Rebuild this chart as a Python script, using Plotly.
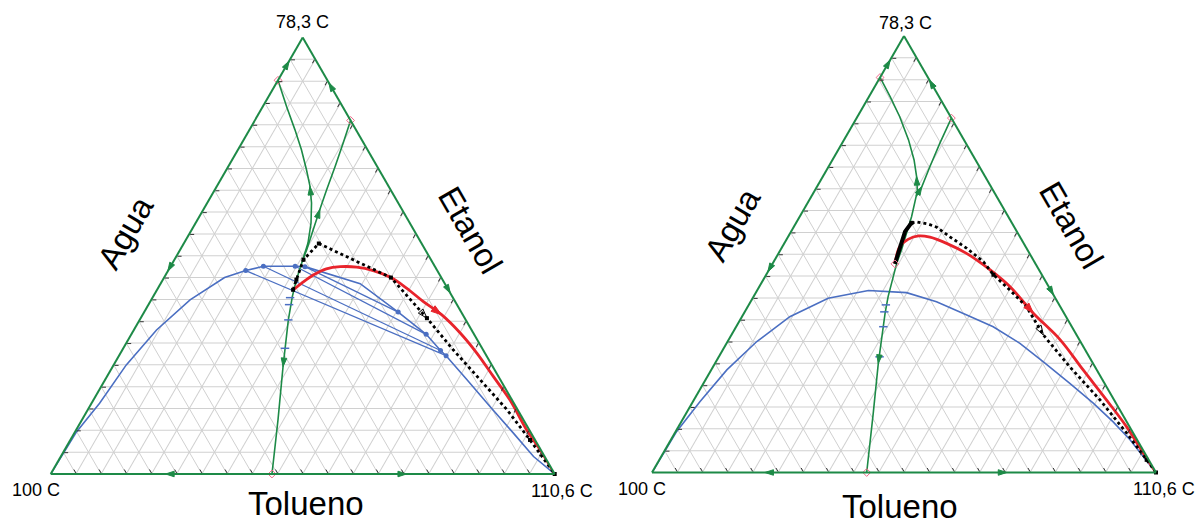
import math
import plotly.graph_objects as go

GREEN = "#1d8a47"
BLUE = "#4b6fc2"
RED = "#e8242c"
GRID = "#d0d0d0"
PINK = "#f06a8a"
FONT = "Liberation Sans, Arial, sans-serif"

# compositions as (Etanol a, Agua b, Tolueno c)
# ---------------- left diagram ----------------
left_binodal = [
    (0.000, 1.000, 0.000), (0.097, 0.900, 0.003), (0.162, 0.822, 0.016),
    (0.250, 0.725, 0.025), (0.330, 0.625, 0.045), (0.399, 0.524, 0.077),
    (0.450, 0.430, 0.120), (0.466, 0.380, 0.154), (0.476, 0.340, 0.184),
    (0.476, 0.277, 0.247), (0.475, 0.258, 0.267), (0.436, 0.168, 0.396),
    (0.371, 0.125, 0.504), (0.320, 0.095, 0.585), (0.283, 0.085, 0.632),
    (0.271, 0.080, 0.649), (0.216, 0.066, 0.718), (0.154, 0.051, 0.795),
    (0.093, 0.035, 0.872), (0.040, 0.022, 0.938), (0.000, 0.000, 1.000),
]
left_tie_water = [(0.466, 0.380, 0.154), (0.476, 0.340, 0.184),
                  (0.476, 0.277, 0.247), (0.475, 0.258, 0.267)]
left_tie_toluene = [(0.271, 0.080, 0.649), (0.283, 0.085, 0.632),
                    (0.320, 0.095, 0.585), (0.371, 0.125, 0.504)]
left_boundary_1 = [
    (0.902, 0.098, 0.000), (0.842, 0.111, 0.047), (0.789, 0.121, 0.090),
    (0.743, 0.131, 0.126), (0.697, 0.144, 0.159), (0.659, 0.156, 0.185),
    (0.621, 0.172, 0.207), (0.575, 0.196, 0.229), (0.529, 0.225, 0.246),
    (0.490, 0.255, 0.255),
]
left_boundary_2 = [
    (0.810, 0.000, 0.190), (0.759, 0.040, 0.201), (0.705, 0.083, 0.212),
    (0.651, 0.127, 0.222), (0.606, 0.163, 0.231), (0.560, 0.199, 0.241),
    (0.514, 0.235, 0.251), (0.490, 0.255, 0.255),
]
left_boundary_3 = [
    (0.490, 0.255, 0.255), (0.445, 0.290, 0.265), (0.407, 0.317, 0.276),
    (0.353, 0.352, 0.295), (0.246, 0.416, 0.338), (0.124, 0.487, 0.389),
    (0.000, 0.561, 0.439),
]
left_red = [
    (0.422, 0.308, 0.270), (0.437, 0.284, 0.279), (0.456, 0.251, 0.293),
    (0.470, 0.218, 0.312), (0.475, 0.188, 0.337), (0.474, 0.156, 0.370),
    (0.466, 0.127, 0.407), (0.450, 0.100, 0.450), (0.426, 0.081, 0.493),
    (0.395, 0.063, 0.542), (0.365, 0.042, 0.593), (0.323, 0.026, 0.651),
    (0.277, 0.016, 0.707), (0.223, 0.010, 0.767), (0.170, 0.004, 0.826),
    (0.101, 0.005, 0.894), (0.055, 0.001, 0.944), (0.000, 0.000, 1.000),
]
left_black = [
    (0.422, 0.308, 0.270), (0.445, 0.290, 0.265), (0.491, 0.253, 0.256),
    (0.528, 0.204, 0.268), (0.450, 0.100, 0.450), (0.357, 0.075, 0.568),
    (0.284, 0.059, 0.657), (0.216, 0.040, 0.744), (0.147, 0.021, 0.832),
    (0.078, 0.010, 0.912), (0.000, 0.000, 1.000),
]
left_black_nodes = [0, 1, 2, 3, 4, 5, 9, 10]
left_blue_marks = [(0.404, 0.323, 0.273), (0.388, 0.333, 0.279),
                   (0.353, 0.352, 0.295), (0.288, 0.391, 0.321)]
left_azeotropes = [(0.902, 0.098, 0.000), (0.810, 0.000, 0.190), (0.000, 0.561, 0.439)]

# ---------------- right diagram ----------------
right_binodal = [
    (0.000, 1.000, 0.000), (0.094, 0.904, 0.002), (0.162, 0.824, 0.014),
    (0.235, 0.734, 0.031), (0.300, 0.642, 0.058), (0.357, 0.548, 0.095),
    (0.399, 0.451, 0.150), (0.417, 0.362, 0.221), (0.412, 0.289, 0.299),
    (0.391, 0.240, 0.369), (0.361, 0.195, 0.444), (0.334, 0.156, 0.510),
    (0.296, 0.122, 0.582), (0.254, 0.097, 0.649), (0.204, 0.069, 0.727),
    (0.159, 0.045, 0.796), (0.116, 0.027, 0.857), (0.075, 0.014, 0.911),
    (0.036, 0.007, 0.957), (0.000, 0.000, 1.000),
]
right_boundary_1 = [
    (0.905, 0.095, 0.000), (0.861, 0.097, 0.042), (0.815, 0.101, 0.084),
    (0.762, 0.110, 0.128), (0.716, 0.122, 0.162), (0.678, 0.136, 0.186),
    (0.647, 0.150, 0.203), (0.632, 0.160, 0.208),
]
right_boundary_2 = [
    (0.812, 0.000, 0.188), (0.754, 0.052, 0.194), (0.701, 0.098, 0.201),
    (0.655, 0.137, 0.208), (0.632, 0.160, 0.208),
]
right_boundary_3 = [
    (0.632, 0.160, 0.208), (0.586, 0.192, 0.222), (0.548, 0.221, 0.231),
    (0.510, 0.250, 0.240), (0.479, 0.275, 0.246), (0.403, 0.330, 0.267),
    (0.365, 0.355, 0.280), (0.250, 0.426, 0.324), (0.136, 0.493, 0.371),
    (0.000, 0.574, 0.426),
]
right_red = [
    (0.478, 0.279, 0.243), (0.517, 0.250, 0.233), (0.534, 0.225, 0.241),
    (0.542, 0.200, 0.258), (0.539, 0.179, 0.282), (0.525, 0.153, 0.322),
    (0.502, 0.125, 0.373), (0.464, 0.097, 0.439), (0.426, 0.077, 0.497),
    (0.365, 0.061, 0.574), (0.304, 0.038, 0.658), (0.235, 0.027, 0.738),
    (0.166, 0.015, 0.819), (0.105, 0.006, 0.889), (0.044, 0.003, 0.953),
    (0.000, 0.000, 1.000),
]
right_black_solid = [(0.478, 0.279, 0.243), (0.517, 0.249, 0.234),
                     (0.552, 0.222, 0.226), (0.572, 0.199, 0.229)]
right_black = [
    (0.572, 0.199, 0.229), (0.574, 0.188, 0.238), (0.569, 0.167, 0.264),
    (0.562, 0.154, 0.284), (0.540, 0.139, 0.321), (0.514, 0.119, 0.367),
    (0.483, 0.101, 0.416), (0.453, 0.096, 0.451), (0.418, 0.081, 0.501),
    (0.380, 0.067, 0.553), (0.315, 0.066, 0.619), (0.242, 0.050, 0.708),
    (0.166, 0.028, 0.806), (0.090, 0.013, 0.897), (0.029, 0.004, 0.967),
    (0.000, 0.000, 1.000),
]
right_black_nodes = [0, 7, 14, 15]
right_blue_marks = [(0.384, 0.344, 0.272), (0.368, 0.355, 0.277),
                    (0.334, 0.374, 0.292), (0.265, 0.416, 0.319)]
right_azeotropes = [(0.905, 0.095, 0.000), (0.812, 0.000, 0.188),
                    (0.000, 0.574, 0.426), (0.478, 0.279, 0.243)]

# arrows: (tail composition, head composition)
left_edge_arrows = [
    ((0.920, 0.080, 0.0), (0.946, 0.054, 0.0)), ((0.500, 0.500, 0.0), (0.465, 0.535, 0.0)),
    ((0.870, 0.0, 0.130), (0.896, 0.0, 0.104)), ((0.450, 0.0, 0.550), (0.4145, 0.0, 0.5855)),
    ((0.0, 0.740, 0.260), (0.0, 0.772, 0.228)), ((0.0, 0.330, 0.670), (0.0, 0.294, 0.706)),
]
right_edge_arrows = [
    ((0.920, 0.080, 0.0), (0.945, 0.055, 0.0)), ((0.500, 0.500, 0.0), (0.460, 0.540, 0.0)),
    ((0.870, 0.0, 0.130), (0.899, 0.0, 0.101)), ((0.450, 0.0, 0.550), (0.407, 0.0, 0.593)),
    ((0.0, 0.740, 0.260), (0.0, 0.776, 0.224)), ((0.0, 0.330, 0.670), (0.0, 0.296, 0.704)),
]

fig = go.Figure()


def tern(points, subplot, **kw):
    fig.add_trace(go.Scatterternary(
        a=[p[0] for p in points], b=[p[1] for p in points], c=[p[2] for p in points],
        subplot=subplot, showlegend=False, hoverinfo="skip", cliponaxis=False, **kw))


def angle(tail, head):
    dx = (head[2] + head[0] / 2) - (tail[2] + tail[0] / 2)
    dy = (head[0] - tail[0]) * math.sqrt(3) / 2
    return math.degrees(math.atan2(dx, dy))


def arrows(pairs, subplot, color, symbol="arrow", size=9):
    heads = [h for _, h in pairs]
    tern(heads, subplot, mode="markers",
         marker=dict(symbol=symbol, size=size, color=color,
                     angle=[angle(t, h) for t, h in pairs],
                     line=dict(color=color, width=1)))


def draw(subplot, binodal, b1, b2, b3, red, black, black_nodes, marks, azeos,
         edge_arrows, inner_arrows, red_arrow, black_arrow,
         tie_w=None, tie_t=None, black_solid=None):
    tern(binodal, subplot, mode="lines", line=dict(color=BLUE, width=1.6))
    if tie_w:
        for w, t in zip(tie_w, tie_t):
            tern([w, t], subplot, mode="lines+markers", line=dict(color=BLUE, width=1.3),
                 marker=dict(size=5, color=BLUE))
    for bl in (b1, b2, b3):
        tern(bl, subplot, mode="lines", line=dict(color=GREEN, width=1.6))
    tern(marks, subplot, mode="markers",
         marker=dict(symbol="line-ew-open", size=6, color=BLUE, line=dict(color=BLUE, width=1.5)))
    tern(red, subplot, mode="lines", line=dict(color=RED, width=2.8, shape="spline"))
    if black_solid:
        tern(black_solid, subplot, mode="lines", line=dict(color="black", width=4))
    tern(black, subplot, mode="lines", line=dict(color="black", width=2.8, dash="dot"))
    tern([black[i] for i in black_nodes], subplot, mode="markers",
         marker=dict(symbol="square", size=4, color="black"))
    tern(azeos, subplot, mode="markers",
         marker=dict(symbol="diamond-open", size=6, color=PINK, line=dict(color=PINK, width=1)))
    arrows(edge_arrows, subplot, GREEN)
    arrows(inner_arrows, subplot, GREEN)
    arrows([red_arrow], subplot, RED, size=11)
    arrows([black_arrow], subplot, "black", symbol="arrow-open", size=10)


draw("ternary", left_binodal, left_boundary_1, left_boundary_2, left_boundary_3,
     left_red, left_black, left_black_nodes, left_blue_marks, left_azeotropes,
     left_edge_arrows,
     [(left_boundary_1[6], left_boundary_1[5]), (left_boundary_2[5], left_boundary_2[4]),
      (left_boundary_3[3], left_boundary_3[4])],
     (left_red[9], left_red[10]), (left_black[4], left_black[5]),
     tie_w=left_tie_water, tie_t=left_tie_toluene)

draw("ternary2", right_binodal, right_boundary_1, right_boundary_2, right_boundary_3,
     right_red, right_black, right_black_nodes, right_blue_marks, right_azeotropes,
     right_edge_arrows,
     [(right_boundary_1[6], right_boundary_1[5]), (right_boundary_2[4], right_boundary_2[3]),
      (right_boundary_3[6], right_boundary_3[7])],
     (right_red[8], right_red[9]), (right_black[9], right_black[10]),
     black_solid=right_black_solid)

axis = dict(min=0, dtick=0.05, showgrid=True, gridcolor=GRID, gridwidth=1,
            linecolor=GREEN, linewidth=2, showticklabels=False, ticks="inside",
            ticklen=4, tickcolor="#333333", tickwidth=1, title=dict(text=""))

fig.update_layout(
    width=1200, height=525, margin=dict(l=0, r=0, t=0, b=0),
    paper_bgcolor="white", showlegend=False,
    font=dict(family=FONT, color="black"),
    ternary=dict(domain=dict(x=[0.04225, 0.46225], y=[0.0938, 0.9319]), sum=1,
                 bgcolor="white", aaxis=axis, baxis=axis, caxis=axis),
    ternary2=dict(domain=dict(x=[0.54333, 0.96333], y=[0.09667, 0.93476]), sum=1,
                  bgcolor="white", aaxis=axis, baxis=axis, caxis=axis),
)

vertex_labels = ["78,3 C", "100 C", "110,6 C"]
side_labels = ["Agua", "Etanol", "Tolueno"]
panels = [
    dict(v=[(302, 22), (36, 490), (562, 491)], s=[(125, 232, -60), (471, 230, 60), (306, 503, 0)]),
    dict(v=[(905, 23), (642, 489), (1164, 489)], s=[(732, 224, -60), (1072, 225, 60), (900, 506, 0)]),
]
anns = []
for p in panels:
    for (x, y), t in zip(p["v"], vertex_labels):
        anns.append(dict(x=x / 1200, y=1 - y / 525, xref="paper", yref="paper", text=t,
                         showarrow=False, font=dict(size=18, family=FONT),
                         xanchor="center", yanchor="middle"))
    for (x, y, ang), t in zip(p["s"], side_labels):
        anns.append(dict(x=x / 1200, y=1 - y / 525, xref="paper", yref="paper", text=t,
                         showarrow=False, textangle=ang, font=dict(size=33, family=FONT),
                         xanchor="center", yanchor="middle"))
fig.update_layout(annotations=anns)

fig.write_html("out.html", config={"displayModeBar": False},
               post_script="document.body.style.margin='0px';document.body.style.overflow='hidden';")
